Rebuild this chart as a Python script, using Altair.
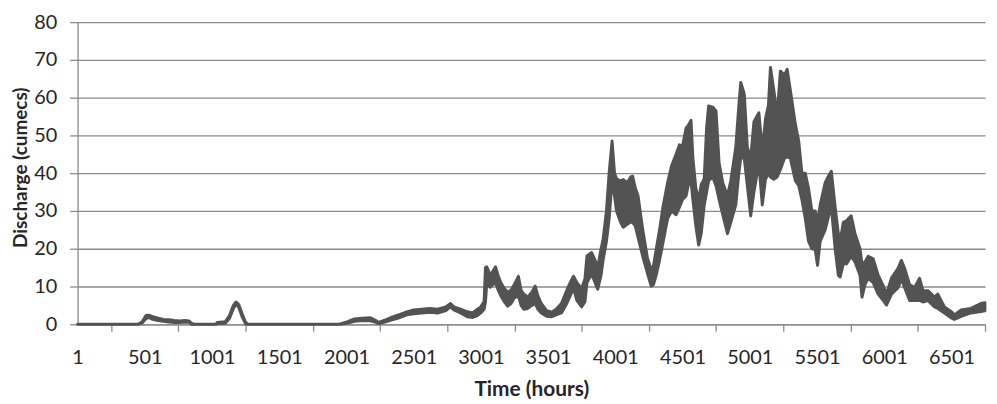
import altair as alt
import pandas as pd

# Hourly discharge, read as a low/high envelope of the noisy trace
hours = [1, 450, 480, 510, 530, 560, 600, 640, 680, 720, 760, 800, 830, 850, 870,
         1030, 1040, 1100, 1130, 1160, 1180, 1200, 1225, 1250, 1265,
         1950, 2010, 2060, 2120, 2180, 2220, 2240, 2280, 2340, 2400, 2450, 2500,
         2560, 2620, 2680, 2740, 2775, 2800, 2850, 2900, 2940, 2975, 3000, 3025,
         3035, 3045, 3070, 3090, 3110, 3130, 3150, 3175, 3200, 3225, 3250, 3280,
         3300, 3320, 3350, 3380, 3405, 3425, 3450, 3490, 3530, 3560, 3600, 3640,
         3665, 3690, 3715, 3750, 3775, 3790, 3825, 3850, 3870, 3895, 3910, 3935,
         3955, 3977, 3995, 4010, 4040, 4060, 4090, 4115, 4130, 4150, 4170, 4205,
         4240, 4268, 4285, 4305, 4330, 4355, 4390, 4420, 4453, 4478, 4500, 4527,
         4545, 4564, 4578, 4600, 4621, 4640, 4662, 4680, 4695, 4725, 4750, 4773,
         4800, 4835, 4860, 4897, 4920, 4934, 4960, 4983, 5008, 5032, 5069, 5094,
         5118, 5140, 5155, 5180, 5205, 5229, 5260, 5279, 5303, 5340, 5365, 5389,
         5414, 5438, 5463, 5488, 5505, 5525, 5562, 5590, 5608, 5636, 5660, 5673,
         5697, 5720, 5755, 5784, 5821, 5836, 5858, 5882, 5919, 5956, 5990, 6018,
         6055, 6104, 6129, 6153, 6190, 6227, 6264, 6289, 6326, 6375, 6400, 6449,
         6499, 6523, 6573, 6646, 6720, 6750]

low = [0, 0, 0.3, 1.5, 1.8, 1.3, 1.0, 0.8, 0.6, 0.5, 0.5, 0.6, 0.5, 0, 0,
       0, 0.2, 0.3, 1.5, 4.2, 5.3, 4.5, 2.0, 0.2, 0,
       0, 0.3, 0.8, 1.0, 0.9, 0.5, 0.2, 0.5, 1.2, 1.8, 2.5, 2.8,
       3.0, 3.2, 3.0, 3.6, 4.6, 3.8, 3.0, 2.0, 1.8, 2.3, 3.0, 4.0,
       6.0, 11.0, 9.8, 10.5, 11.0, 9.0, 7.5, 6.0, 4.8, 5.5, 7.0, 7.5,
       5.0, 4.0, 4.2, 5.0, 5.5, 4.0, 3.0, 2.1, 2.0, 2.5, 3.0, 5.5,
       7.5, 9.5, 6.3, 4.6, 6.0, 11.0, 13.5, 11.0, 9.3, 13.0, 17.0, 22.0,
       28.0, 38.0, 34.0, 30.0, 27.0, 25.7, 26.5, 27.0, 27.0, 26.0, 23.0, 18.0,
       13.5, 10.1, 10.5, 13.0, 17.0, 21.5, 28.0, 30.0, 29.0, 31.0, 33.0, 34.0,
       37.0, 38.0, 33.0, 26.0, 21.0, 24.0, 31.5, 35.0, 38.0, 39.0, 36.7, 33.0,
       29.0, 24.0, 27.0, 31.6, 40.0, 44.0, 44.0, 36.7, 28.7, 35.0, 42.6, 31.6,
       38.4, 40.0, 39.0, 38.4, 39.0, 41.0, 44.0, 44.3, 44.0, 38.0, 36.7, 33.0,
       28.0, 22.0, 20.0, 19.8, 15.6, 22.0, 25.0, 29.0, 31.0, 20.0, 13.0, 12.5,
       16.0, 16.0, 18.0, 16.5, 13.0, 7.2, 10.5, 12.2, 11.0, 8.0, 6.5, 5.1,
       8.0, 9.7, 12.0, 9.7, 6.3, 6.3, 6.3, 5.9, 6.3, 4.6, 4.2, 3.0,
       1.7, 1.3, 2.1, 3.0, 3.4, 3.6]

high = [0, 0, 0.6, 2.3, 2.4, 2.0, 1.6, 1.3, 1.2, 1.0, 0.9, 1.0, 0.9, 0.2, 0,
        0, 0.5, 0.7, 2.2, 5.0, 5.9, 5.2, 2.8, 0.6, 0,
        0, 0.7, 1.4, 1.6, 1.7, 1.0, 0.5, 1.0, 1.9, 2.6, 3.3, 3.8,
        4.0, 4.2, 4.0, 4.6, 5.5, 4.6, 4.0, 3.3, 3.0, 4.0, 4.6, 6.0,
        15.0, 15.2, 13.0, 14.0, 15.2, 12.8, 11.0, 9.5, 8.5, 9.0, 10.5, 12.7,
        9.0, 8.0, 7.2, 8.5, 10.1, 7.5, 5.5, 3.6, 3.2, 4.0, 5.5, 9.0,
        11.0, 12.7, 11.0, 9.5, 12.0, 18.1, 19.0, 17.0, 15.0, 20.0, 22.4, 30.0,
        40.0, 48.5, 40.0, 38.5, 38.0, 38.3, 37.5, 39.0, 39.2, 36.0, 34.0, 25.0,
        17.5, 14.5, 15.5, 19.8, 25.0, 31.0, 37.5, 42.0, 45.0, 47.5, 47.0, 51.9,
        52.7, 54.0, 44.0, 36.0, 33.0, 37.0, 38.5, 52.0, 57.8, 57.5, 56.5, 42.6,
        37.5, 34.0, 38.0, 46.8, 58.0, 64.0, 61.0, 46.8, 44.0, 53.6, 56.0, 46.0,
        54.4, 58.0, 68.0, 62.0, 55.3, 67.0, 66.0, 67.5, 62.0, 53.0, 48.5, 40.0,
        40.0, 36.0, 30.0, 30.0, 27.0, 31.6, 37.5, 39.5, 40.5, 31.0, 24.0, 22.0,
        27.0, 27.4, 28.7, 24.0, 20.0, 16.0, 16.5, 18.0, 17.3, 13.0, 10.5, 8.0,
        12.2, 14.8, 16.9, 14.8, 10.5, 9.7, 12.2, 8.9, 8.9, 7.2, 8.0, 4.6,
        3.4, 2.5, 3.8, 4.2, 5.5, 5.7]

x_tick_values = [1, 251, 501, 751, 1001, 1251, 1501, 1751, 2001, 2251, 2501, 2751,
                 3001, 3251, 3501, 3751, 4001, 4251, 4501, 4751, 5001, 5251, 5501,
                 5751, 6001, 6251, 6501, 6751]
y_tick_values = [0, 10, 20, 30, 40, 50, 60, 70, 80]

df = pd.DataFrame({"hour": hours, "low": low, "high": high})

GRID = "#8a8a8a"
LINE = "#535353"
TEXT = "#262626"
FONT = "Lato"

x_axis = alt.Axis(
    values=x_tick_values,
    format="d",
    labelExpr="(datum.value - 1) % 500 == 0 ? datum.label : ''",
    tickOpacity={"condition": {"test": "(datum.value - 1) % 500 == 0", "value": 0}, "value": 1},
    tickSize=7, tickColor=GRID, tickWidth=1.3,
    domainColor=GRID, domainWidth=1.3,
    grid=False,
    labelFont=FONT, labelFontSize=20, labelColor=TEXT, labelPadding=16,
    labelFlush=False, labelOverlap=False,
    title="Time (hours)", titleFont=FONT, titleFontSize=21, titleFontWeight="bold",
    titleColor=TEXT, titleX=456.5, titleY=72, titleAlign="center",
    titleBaseline="alphabetic",
)

y_axis = alt.Axis(
    values=y_tick_values,
    grid=True, gridColor=GRID, gridWidth=1.3,
    domainColor=GRID, domainWidth=1.3,
    tickSize=8, tickColor=GRID, tickWidth=1.3,
    labelFont=FONT, labelFontSize=20, labelColor=TEXT, labelPadding=13,
    title="Discharge (cumecs)", titleFont=FONT, titleFontSize=19, titleFontWeight="bold",
    titleColor=TEXT, titleX=-51, titleY=146, titleAlign="center",
    titleBaseline="alphabetic", titleAngle=270,
)

chart = (
    alt.Chart(df)
    .mark_area(color=LINE, stroke=LINE, strokeWidth=3, strokeJoin="round", fillOpacity=1)
    .encode(
        x=alt.X("hour:Q", scale=alt.Scale(domain=[1, 6751], nice=False, zero=False), axis=x_axis),
        y=alt.Y("high:Q", scale=alt.Scale(domain=[0, 80], nice=False), axis=y_axis),
        y2="low:Q",
    )
    .properties(
        width=913,
        height=304,
        autosize=alt.AutoSizeParams(type="none"),
        padding={"left": 70, "top": 13, "right": 4, "bottom": 79},
    )
    .configure_view(stroke="transparent")
)

chart.save("out.html", embed_options={"renderer": "svg", "actions": False})
